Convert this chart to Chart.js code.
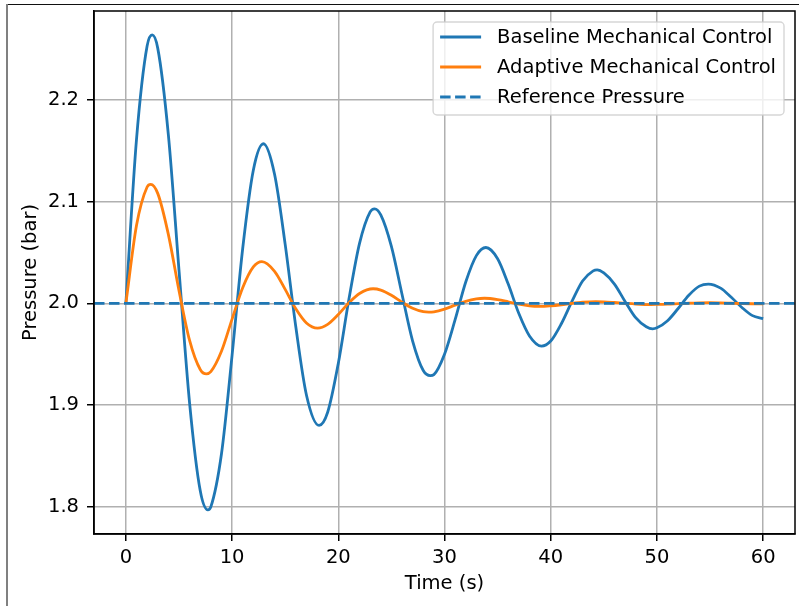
<!DOCTYPE html>
<html>
<head>
<meta charset="utf-8">
<script src="https://cdn.jsdelivr.net/npm/chart.js@4/dist/chart.umd.min.js"></script>
<style>
  body { margin: 0; background: #fff; }
  #wrap { position: relative; width: 799px; height: 606px; overflow: hidden; }
  #edgeTop { position: absolute; left: 7px; top: 4px; width: 792px; height: 0; border-top: 1.5px solid #111; }
  #edgeLeft { position: absolute; left: 6px; top: 4px; width: 0; height: 602px; border-left: 2px solid #808080; }
  canvas { position: absolute; left: 0; top: 0; }
</style>
</head>
<body>
<div id="wrap">
  <canvas id="myChart" width="799" height="606"></canvas>
  <div id="edgeTop"></div>
  <div id="edgeLeft"></div>
</div>
<script>
// time (s) and pressure (bar)
var baselineTime = [0, 1, 2, 2.48, 3, 4, 5, 6, 7, 7.72, 8, 9, 10, 11, 12, 12.95, 14, 15, 16, 17, 18.19, 19, 20,
    21, 22, 23, 23.42, 24, 25, 26, 27, 28, 28.66, 29, 30, 31, 32, 33, 33.9, 35, 36, 37, 38, 39.13, 40,
    41, 42, 43, 44, 44.37, 45, 46, 47, 48, 49, 49.6, 50, 51, 52, 53, 54, 54.84, 56, 57, 58, 59, 60];
var baselinePressure = [2.000, 2.161, 2.253, 2.264, 2.251, 2.166, 2.033, 1.902, 1.816, 1.797, 1.800, 1.852, 1.949, 2.054, 2.131, 2.157, 2.127, 2.058, 1.977, 1.910, 1.880, 1.893, 1.941,
    2.004, 2.059, 2.090, 2.093, 2.087, 2.056, 2.009, 1.963, 1.934, 1.929, 1.930, 1.950, 1.984, 2.021, 2.047, 2.055, 2.044, 2.019, 1.990, 1.968, 1.958, 1.963,
    1.980, 2.002, 2.022, 2.032, 2.033, 2.030, 2.019, 2.002, 1.986, 1.977, 1.975, 1.976, 1.983, 1.995, 2.008, 2.017, 2.019, 2.015, 2.006, 1.996, 1.988, 1.985];

var adaptiveTime = [0, 1, 2, 2.34, 3, 4, 5, 6, 7, 7.58, 8, 9, 10, 11, 12, 12.81, 14, 15, 16, 17, 18.05, 19, 20,
    21, 22, 23.28, 24, 25, 26, 27, 28, 28.52, 29, 30, 31, 32, 33, 33.76, 35, 36, 37, 38, 38.99, 40,
    41, 42, 43, 44.23, 45, 46, 47, 48, 49.47, 50, 51, 52, 53, 54, 55, 56, 57, 58, 59, 60];
var adaptivePressure = [2.0000, 2.0766, 2.1145, 2.1171, 2.1082, 2.0679, 2.0128, 1.9636, 1.9351, 1.9307, 1.9329, 1.9529, 1.9846, 2.0155, 2.0359, 2.0411, 2.0316, 2.0138, 1.9947, 1.9808, 1.9757, 1.9794, 1.9891,
    2.0006, 2.0098, 2.0144, 2.0131, 2.0080, 2.0012, 1.9952, 1.9919, 1.9915, 1.9918, 1.9944, 1.9983, 2.0021, 2.0045, 2.0051, 2.0038, 2.0016, 1.9992, 1.9975, 1.9970, 1.9976,
    1.9987, 2.0001, 2.0012, 2.0018, 2.0016, 2.0009, 2.0001, 1.9994, 1.9989, 1.9990, 1.9993, 1.9998, 2.0003, 2.0006, 2.0007, 2.0005, 2.0002, 1.9999, 1.9997, 1.9996];

var refPressure = 2.0;

var xTicks = [0, 10, 20, 30, 40, 50, 60];
var yTicks = [1.8, 1.9, 2.0, 2.1, 2.2];
var xMin = -3, xMax = 63;
var yMin = 1.7733, yMax = 2.2875;

function toPoints(xs, ys) {
    var pts = [];
    for (var i = 0; i < xs.length; i++) {
        pts.push({ x: xs[i], y: ys[i] });
    }
    return pts;
}

var font = { family: "'DejaVu Sans', sans-serif", size: 19.5 };

// closed black box round the plot area, like matplotlib spines
var frame = {
    id: 'frame',
    afterDatasetsDraw: function (chart) {
        var ctx = chart.ctx, a = chart.chartArea;
        ctx.save();
        ctx.strokeStyle = '#000';
        ctx.lineWidth = 1.5;
        ctx.strokeRect(a.left, a.top, a.right - a.left, a.bottom - a.top);
        ctx.restore();
    }
};

// legend box in the upper right corner of the plot
var legendBox = {
    id: 'legendBox',
    afterDraw: function (chart) {
        var ctx = chart.ctx, a = chart.chartArea;
        var sets = chart.data.datasets;
        ctx.save();
        ctx.font = "19.5px 'DejaVu Sans', sans-serif";
        var textW = 0;
        for (var i = 0; i < sets.length; i++) {
            textW = Math.max(textW, ctx.measureText(sets[i].label).width);
        }
        var w = 64 + textW + 8, h = 93;
        var x = a.right - 11 - w, y = a.top + 11;
        ctx.beginPath();
        ctx.roundRect(x, y, w, h, 4);
        ctx.fillStyle = 'rgba(255,255,255,0.8)';
        ctx.fill();
        ctx.strokeStyle = 'rgba(204,204,204,0.8)';
        ctx.lineWidth = 1.4;
        ctx.stroke();
        for (var i = 0; i < sets.length; i++) {
            var ry = y + 15 + i * 30;
            ctx.beginPath();
            ctx.setLineDash(sets[i].borderDash || []);
            ctx.strokeStyle = sets[i].borderColor;
            ctx.lineWidth = sets[i].borderWidth;
            ctx.moveTo(x + 7, ry);
            ctx.lineTo(x + 48, ry);
            ctx.stroke();
            ctx.setLineDash([]);
            ctx.fillStyle = '#000';
            ctx.textBaseline = 'middle';
            ctx.fillText(sets[i].label, x + 64, ry + 1);
        }
        ctx.restore();
    }
};

function noPad(s) {
    s.paddingTop = 0;
    s.paddingBottom = 0;
    s.paddingLeft = 0;
    s.paddingRight = 0;
}

var ctx = document.getElementById('myChart').getContext('2d');
var myChart = new Chart(ctx, {
    type: 'line',
    data: {
        datasets: [{
            label: 'Baseline Mechanical Control',
            data: toPoints(baselineTime, baselinePressure),
            borderColor: '#1f77b4',
            borderWidth: 2.8,
            pointRadius: 0,
            cubicInterpolationMode: 'monotone',
            order: 2
        }, {
            label: 'Adaptive Mechanical Control',
            data: toPoints(adaptiveTime, adaptivePressure),
            borderColor: '#ff7f0e',
            borderWidth: 2.8,
            pointRadius: 0,
            cubicInterpolationMode: 'monotone',
            order: 1
        }, {
            label: 'Reference Pressure',
            data: toPoints([xMin, xMax], [refPressure, refPressure]),
            borderColor: '#1f77b4',
            borderWidth: 2.8,
            borderDash: [10.5, 4.5],
            pointRadius: 0,
            tension: 0,
            order: 0
        }]
    },
    options: {
        responsive: false,
        animation: false,
        layout: { padding: { top: 11, right: 4, left: 0, bottom: 0 } },
        plugins: {
            legend: { display: false },
            tooltip: { enabled: false }
        },
        scales: {
            x: {
                type: 'linear',
                min: xMin,
                max: xMax,
                afterBuildTicks: function (s) { s.ticks = xTicks.map(function (v) { return { value: v }; }); },
                afterFit: function (s) { s.height = 72; noPad(s); },
                grid: { color: '#b0b0b0', lineWidth: 1.5, tickLength: 7, tickColor: '#000', tickWidth: 1.5 },
                border: { color: '#000', width: 1.5 },
                ticks: {
                    color: '#000', font: font, padding: 5, maxRotation: 0, autoSkip: false,
                    callback: function (v) { return String(v); }
                },
                title: { display: true, text: 'Time (s)', color: '#000', font: font, padding: { top: 0, bottom: 10 } }
            },
            y: {
                type: 'linear',
                min: yMin,
                max: yMax,
                afterBuildTicks: function (s) { s.ticks = yTicks.map(function (v) { return { value: v }; }); },
                afterFit: function (s) { s.width = 94; noPad(s); },
                grid: { color: '#b0b0b0', lineWidth: 1.5, tickLength: 7, tickColor: '#000', tickWidth: 1.5 },
                border: { color: '#000', width: 1.5 },
                ticks: {
                    color: '#000', font: font, padding: 8, autoSkip: false,
                    callback: function (v) { return v.toFixed(1); }
                },
                title: { display: true, text: 'Pressure (bar)', color: '#000', font: font, padding: { top: 19, bottom: 0 } }
            }
        }
    },
    plugins: [frame, legendBox]
});
</script>
</body>
</html>
